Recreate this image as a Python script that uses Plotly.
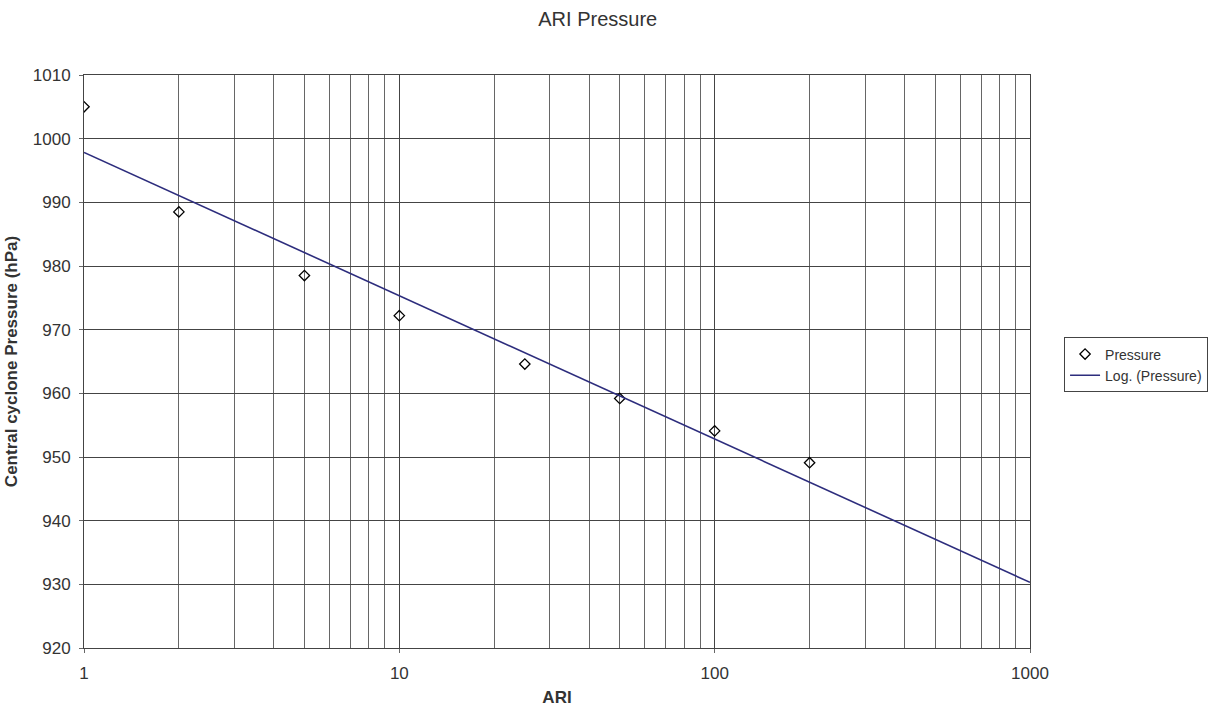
import numpy as np
import plotly.graph_objects as go

# Average recurrence interval (years) and central pressure (hPa)
ari = [1, 2, 5, 10, 25, 50, 100, 200]
pressure = [1005.0, 988.5, 978.5, 972.2, 964.6, 959.2, 954.1, 949.1]

x_ticks = [1, 10, 100, 1000]
y_ticks = [920, 930, 940, 950, 960, 970, 980, 990, 1000, 1010]

# Logarithmic trendline: p = a + b*ln(ARI)
b, a = np.polyfit(np.log(ari), pressure, 1)
trend_x = np.logspace(0, 3, 200)
trend_y = a + b * np.log(trend_x)

minor_vals = [m * 10 ** d for d in range(3) for m in range(2, 10)]

fig = go.Figure()
fig.add_trace(go.Scatter(
    x=ari, y=pressure, mode="markers", name="Pressure",
    marker=dict(symbol="diamond-open", size=8, color="#000000", line=dict(width=1.3)),
))
fig.add_trace(go.Scatter(
    x=trend_x, y=trend_y, mode="lines", name="Log. (Pressure)",
    line=dict(color="#2d2d7d", width=1.6),
))

font_family = "Liberation Sans, Arial, sans-serif"
fig.update_layout(
    width=1210, height=709,
    margin=dict(l=84, r=180, t=75, b=61, autoexpand=False),
    paper_bgcolor="white", plot_bgcolor="white",
    font=dict(family=font_family, size=17, color="#333333"),
    title=dict(text="ARI Pressure", x=0.494, xanchor="center", y=0.973, yanchor="middle",
               font=dict(size=20, color="#333333")),
    showlegend=True,
    legend=dict(x=1.036, y=0.494, xanchor="left", yanchor="middle",
                bordercolor="#444444", borderwidth=1, bgcolor="white",
                font=dict(size=14, color="#333333"), tracegroupgap=0,
                itemwidth=30),
)
fig.update_xaxes(
    type="log", range=[0, 3], tickvals=x_ticks, ticktext=[str(v) for v in x_ticks],
    showgrid=True, gridcolor="#444444", gridwidth=1,
    minor=dict(tickvals=minor_vals, showgrid=True, gridcolor="#666666", gridwidth=1),
    showline=True, linecolor="#444444", linewidth=1, mirror=True,
    ticks="outside", ticklen=4, tickcolor="#666666", zeroline=False,
    ticklabelstandoff=6, automargin=False,
    tickfont=dict(size=17),
    title=dict(text="<b>ARI</b>", font=dict(size=17), standoff=8),
)
fig.update_yaxes(
    range=[920, 1010], tickvals=y_ticks,
    showgrid=True, gridcolor="#444444", gridwidth=1,
    showline=True, linecolor="#444444", linewidth=1, mirror=True,
    ticks="outside", ticklen=4, tickcolor="#666666", zeroline=False,
    ticklabelstandoff=5, automargin=False,
    tickfont=dict(size=17),
    title=dict(text="<b>Central cyclone Pressure (hPa)</b>", font=dict(size=17), standoff=10),
)

fig.write_html("out.html")
